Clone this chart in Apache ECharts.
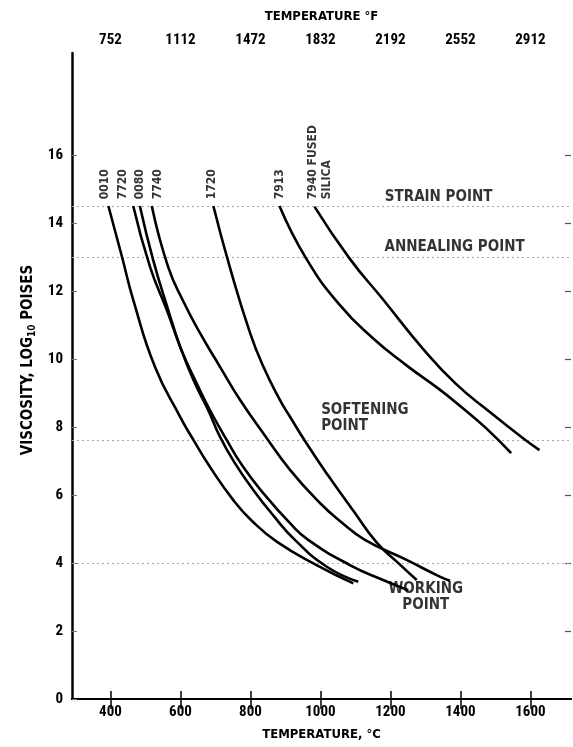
<!DOCTYPE html>
<html>
<head>
<meta charset="utf-8">
<script src="https://cdn.jsdelivr.net/npm/echarts@6/dist/echarts.min.js"></script>
<style>
html,body{margin:0;padding:0;background:#fff;}
#chart{width:573px;height:747px;}
</style>
</head>
<body>
<div id="chart"></div>
<script>
// ---- tick labels ----
const tempTicksC = [400, 600, 800, 1000, 1200, 1400, 1600];
const tempTicksF = ['752', '1112', '1472', '1832', '2192', '2552', '2912'];
const viscTicks = [0, 2, 4, 6, 8, 10, 12, 14, 16];
const viscTicksRight = [2, 4, 6, 8, 10, 12, 14, 16];

// ---- glass curves (temperature °C, log10 viscosity) ----
const t0010 = [394, 433, 465, 527, 599, 637, 684, 751, 803, 876, 989, 1094];
const v0010 = [14.5, 13.0, 11.74, 9.77, 8.3, 7.62, 6.83, 5.85, 5.25, 4.62, 3.94, 3.4];

const t7720 = [465, 513, 561, 603, 646, 684, 732, 779, 837, 913, 965, 1084, 1179, 1251];
const v7720 = [14.5, 12.71, 11.44, 10.26, 9.29, 8.5, 7.62, 6.83, 6.05, 5.17, 4.68, 3.94, 3.5, 3.2];

const t0080 = [484, 522, 565, 599, 637, 679, 713, 756, 808, 865, 927, 1018, 1108];
const v0080 = [14.5, 12.91, 11.44, 10.36, 9.38, 8.5, 7.71, 6.93, 6.15, 5.4, 4.68, 3.89, 3.45];

const t7740 = [518, 565, 608, 656, 713, 770, 837, 913, 1000, 1060, 1127, 1246, 1341, 1370];
const v7740 = [14.5, 12.7, 11.7, 10.76, 9.77, 8.8, 7.81, 6.74, 5.75, 5.2, 4.68, 4.09, 3.6, 3.48];

const t1720 = [694, 741, 799, 837, 884, 913, 960, 1020, 1095, 1161, 1218, 1275];
const v1720 = [14.5, 12.7, 10.76, 9.77, 8.8, 8.3, 7.52, 6.6, 5.52, 4.6, 4.04, 3.5];

const t7913 = [883, 959, 1055, 1150, 1245, 1341, 1407, 1474, 1545];
const v7913 = [14.5, 12.96, 11.59, 10.61, 9.82, 9.1, 8.55, 7.96, 7.23];

const t7940 = [983, 1083, 1179, 1293, 1388, 1483, 1579, 1626];
const v7940 = [14.48, 12.96, 11.75, 10.3, 9.26, 8.45, 7.67, 7.32];

// ---- glass labels ----
const glassNames = ['0010', '7720', '0080', '7740', '1720', '7913', '7940 FUSED\nSILICA'];
const glassLabelTemps = [384, 436, 484, 536, 690, 884, 999];
const glassLabelVisc = [14.7, 14.7, 14.7, 14.7, 14.7, 14.7, 14.7];

// ---- reference levels & notes ----
const refLevels = [14.5, 13.0, 7.6, 4.0];
const noteTexts = ['STRAIN POINT', 'ANNEALING POINT', 'SOFTENING\nPOINT', 'WORKING\nPOINT'];
const noteTemps = [1184, 1183, 1002, 1301];
const noteVisc = [14.76, 13.28, 8.26, 3.0];
const noteAlign = ['left', 'left', 'left', 'center'];

const FONT = "'DejaVu Sans Condensed', sans-serif";
const TICKFONT = "'Roboto Condensed', 'DejaVu Sans Condensed', sans-serif";
const INK = '#000';

const zip = (t, v) => t.map((x, i) => [x, v[i]]);
const curves = [
  zip(t0010, v0010), zip(t7720, v7720), zip(t0080, v0080), zip(t7740, v7740),
  zip(t1720, v1720), zip(t7913, v7913), zip(t7940, v7940)
];

const series = curves.map((d, i) => ({
  name: glassNames[i],
  type: 'line',
  data: d,
  smooth: 0.5,
  showSymbol: false,
  symbol: 'none',
  lineStyle: { color: '#000', width: 2.6 },
  z: 5
}));

series[0].markLine = {
  silent: true,
  symbol: 'none',
  label: { show: false },
  lineStyle: { color: '#a8a8a8', type: [2, 3], width: 1.2 },
  data: refLevels.map(v => ({ yAxis: v }))
};

series.push({
  name: 'glassLabels',
  type: 'scatter',
  symbolSize: 0,
  data: glassLabelTemps.map((t, i) => [t, glassLabelVisc[i], glassNames[i]]),
  label: {
    show: true,
    position: 'inside',
    rotate: 90,
    align: 'left',
    verticalAlign: 'middle',
    formatter: p => p.data[2],
    fontFamily: FONT,
    fontWeight: 'bold',
    fontSize: 12,
    lineHeight: 14,
    color: INK
  },
  z: 6
});

series.push({
  name: 'notes',
  type: 'scatter',
  symbolSize: 0,
  data: noteTemps.map((t, i) => ({
    value: [t, noteVisc[i]],
    label: { align: noteAlign[i] },
    text: noteTexts[i]
  })),
  label: {
    show: true,
    position: 'inside',
    verticalAlign: 'middle',
    formatter: p => p.data.text,
    fontFamily: FONT,
    fontWeight: 'bold',
    fontSize: 15,
    lineHeight: 16,
    color: INK
  },
  z: 6
});

const tickFont = { fontFamily: TICKFONT, fontWeight: 'bold', color: INK };
const titleFont = { fontFamily: FONT, fontWeight: 'bold', color: INK };

const option = {
  animation: false,
  backgroundColor: '#fff',
  grid: { left: 72, right: 2, top: 53, bottom: 48, containLabel: false },
  xAxis: [
    {
      type: 'value',
      position: 'bottom',
      min: 290,
      max: 1716,
      splitLine: { show: false },
      axisLine: { show: true, lineStyle: { color: '#000', width: 2 } },
      axisTick: { show: true, inside: true, length: 8, customValues: tempTicksC, lineStyle: { color: '#000', width: 1.5 } },
      axisLabel: Object.assign({ customValues: tempTicksC, margin: 6, fontSize: 15, formatter: v => String(v) }, tickFont),
      name: 'TEMPERATURE, °C',
      nameLocation: 'middle',
      nameGap: 29,
      nameTextStyle: Object.assign({ fontSize: 13 }, titleFont)
    },
    {
      type: 'value',
      position: 'top',
      min: 290,
      max: 1716,
      splitLine: { show: false },
      axisLine: { show: true, lineStyle: { color: '#000', width: 2 } },
      axisTick: { show: true, inside: true, length: 10, customValues: tempTicksC, lineStyle: { color: '#000', width: 1.5 } },
      axisLabel: Object.assign({
        customValues: tempTicksC, margin: 5, fontSize: 15,
        formatter: v => tempTicksF[tempTicksC.indexOf(v)]
      }, tickFont),
      name: 'TEMPERATURE °F',
      nameLocation: 'middle',
      nameGap: 30,
      nameTextStyle: Object.assign({ fontSize: 13 }, titleFont)
    }
  ],
  yAxis: [
    {
      type: 'value',
      position: 'left',
      min: 0,
      max: 19,
      splitLine: { show: false },
      axisLine: { show: true, lineStyle: { color: '#000', width: 2.5 } },
      axisTick: { show: true, inside: true, length: 5, customValues: viscTicks, lineStyle: { color: '#777', width: 1 } },
      axisLabel: Object.assign({ customValues: viscTicks, margin: 9, fontSize: 15 }, tickFont),
      name: 'VISCOSITY, LOG{s|10} POISES',
      nameLocation: 'middle',
      nameGap: 34,
      nameTextStyle: Object.assign({
        fontSize: 15,
        padding: [0, 0, 0, 32],
        rich: { s: { fontSize: 10, fontFamily: FONT, fontWeight: 'bold', color: INK, padding: [7, 0, 0, 0] } }
      }, titleFont)
    },
    {
      type: 'value',
      position: 'right',
      min: 0,
      max: 19,
      splitLine: { show: false },
      axisLine: { show: false },
      axisTick: { show: true, inside: true, length: 6, customValues: viscTicksRight, lineStyle: { color: '#555', width: 1.2 } },
      axisLabel: { show: false }
    }
  ],
  series: series
};

const chart = echarts.init(document.getElementById('chart'), null, { renderer: 'canvas' });
chart.setOption(option);
</script>
</body>
</html>
